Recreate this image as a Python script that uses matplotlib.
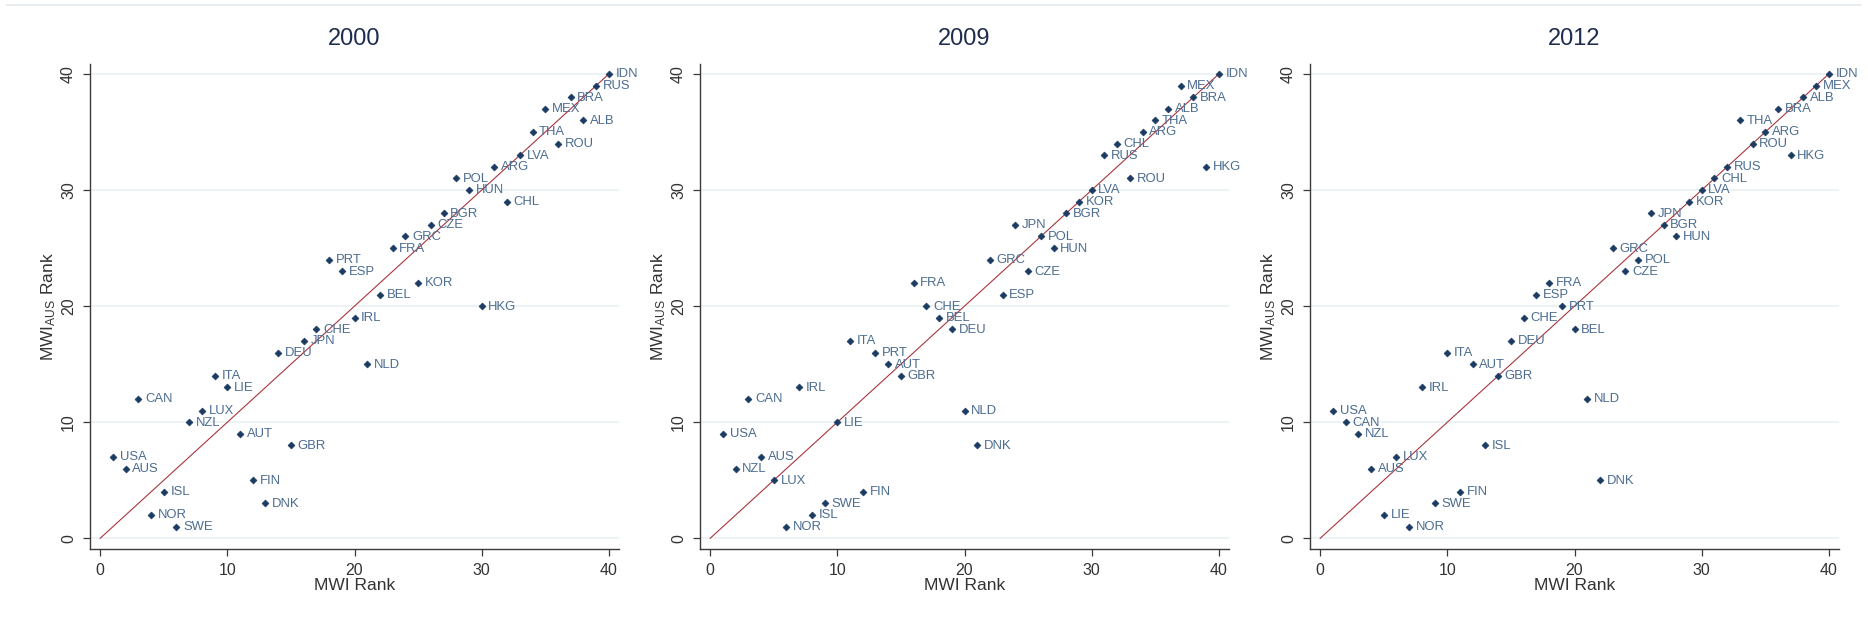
import matplotlib
matplotlib.use("Agg")
import matplotlib.pyplot as plt
from matplotlib.lines import Line2D

plt.rcParams['font.family'] = ['Liberation Sans', 'DejaVu Sans']
plt.rcParams['mathtext.default'] = 'regular'

# ranks per year: MWI rank (x) and MWI_AUS rank (y)
countries_2000 = ["IDN", "RUS", "BRA", "MEX", "ALB", "THA", "ROU", "LVA", "ARG", "POL",
                  "HUN", "CHL", "BGR", "CZE", "GRC", "FRA", "PRT", "ESP", "KOR", "BEL",
                  "HKG", "IRL", "CHE", "JPN", "DEU", "NLD", "ITA", "LIE", "CAN", "LUX",
                  "NZL", "AUT", "GBR", "USA", "AUS", "FIN", "ISL", "DNK", "NOR", "SWE"]
mwi_2000 = [40, 39, 37, 35, 38, 34, 36, 33, 31, 28,
            29, 32, 27, 26, 24, 23, 18, 19, 25, 22,
            30, 20, 17, 16, 14, 21, 9, 10, 3, 8,
            7, 11, 15, 1, 2, 12, 5, 13, 4, 6]
aus_2000 = [40, 39, 38, 37, 36, 35, 34, 33, 32, 31,
            30, 29, 28, 27, 26, 25, 24, 23, 22, 21,
            20, 19, 18, 17, 16, 15, 14, 13, 12, 11,
            10, 9, 8, 7, 6, 5, 4, 3, 2, 1]

countries_2009 = ["IDN", "MEX", "BRA", "ALB", "THA", "ARG", "CHL", "RUS", "HKG", "ROU",
                  "LVA", "KOR", "BGR", "JPN", "POL", "HUN", "GRC", "CZE", "FRA", "ESP",
                  "CHE", "BEL", "DEU", "ITA", "PRT", "AUT", "GBR", "IRL", "CAN", "NLD",
                  "LIE", "USA", "DNK", "AUS", "NZL", "LUX", "FIN", "SWE", "ISL", "NOR"]
mwi_2009 = [40, 37, 38, 36, 35, 34, 32, 31, 39, 33,
            30, 29, 28, 24, 26, 27, 22, 25, 16, 23,
            17, 18, 19, 11, 13, 14, 15, 7, 3, 20,
            10, 1, 21, 4, 2, 5, 12, 9, 8, 6]
aus_2009 = [40, 39, 38, 37, 36, 35, 34, 33, 32, 31,
            30, 29, 28, 27, 26, 25, 24, 23, 22, 21,
            20, 19, 18, 17, 16, 15, 14, 13, 12, 11,
            10, 9, 8, 7, 6, 5, 4, 3, 2, 1]

countries_2012 = ["IDN", "MEX", "ALB", "BRA", "THA", "ARG", "ROU", "HKG", "RUS", "CHL",
                  "LVA", "KOR", "JPN", "BGR", "HUN", "GRC", "POL", "CZE", "FRA", "ESP",
                  "PRT", "CHE", "BEL", "DEU", "ITA", "AUT", "GBR", "IRL", "NLD", "USA",
                  "CAN", "NZL", "ISL", "LUX", "AUS", "DNK", "FIN", "SWE", "LIE", "NOR"]
mwi_2012 = [40, 39, 38, 36, 33, 35, 34, 37, 32, 31,
            30, 29, 26, 27, 28, 23, 25, 24, 18, 17,
            19, 16, 20, 15, 10, 12, 14, 8, 21, 1,
            2, 3, 13, 6, 4, 22, 11, 9, 5, 7]
aus_2012 = [40, 39, 38, 37, 36, 35, 34, 33, 32, 31,
            30, 29, 28, 27, 26, 25, 24, 23, 22, 21,
            20, 19, 18, 17, 16, 15, 14, 13, 12, 11,
            10, 9, 8, 7, 6, 5, 4, 3, 2, 1]

years = ["2000", "2009", "2012"]
panels = [(countries_2000, mwi_2000, aus_2000),
          (countries_2009, mwi_2009, aus_2009),
          (countries_2012, mwi_2012, aus_2012)]
ticks = [0, 10, 20, 30, 40]

W, H = 1868, 625
fig = plt.figure(figsize=(W / 100, H / 100), dpi=100)

# faint rule along the top edge
fig.add_artist(Line2D([7 / W, 1861 / W], [1 - 5 / H, 1 - 5 / H],
                      color='#e4ebec', lw=1.2))

lefts = [90, 700, 1310]
for left, year, (names, xs, ys) in zip(lefts, years, panels):
    ax = fig.add_axes([left / W, 0.1222, 529 / W, 0.7754])
    ax.set_xlim(-0.8, 40.8)
    ax.set_ylim(-0.89, 40.86)
    for t in ticks:
        ax.axhline(t, color='#e8f0f1', lw=1.1, zorder=0)
    # 45-degree reference line
    ax.plot([0, 40], [0, 40], color='#a8363e', lw=0.8, zorder=1)
    ax.plot(xs, ys, 'D', ms=3.5, color='#1c3b63', mec='#1c3b63', mew=0.5,
            ls='none', zorder=3)
    for name, x, y in zip(names, xs, ys):
        ax.annotate(name, (x, y), xytext=(4.8, -0.3), textcoords='offset points',
                    va='center', ha='left', fontsize=9.4, color='#4b6c90',
                    annotation_clip=False, zorder=4)

    for s in ['top', 'right']:
        ax.spines[s].set_visible(False)
    for s in ['left', 'bottom']:
        ax.spines[s].set_color('#3a3a3a')
        ax.spines[s].set_linewidth(1.0)
    ax.set_xticks(ticks)
    ax.set_yticks(ticks)
    ax.tick_params(axis='both', direction='out', length=5, width=0.9,
                   color='#3a3a3a', labelsize=11.5, labelcolor='#333333', pad=5)
    for lab in ax.get_yticklabels():
        lab.set_rotation(90)
        lab.set_va('center')
    ax.set_xlabel('MWI Rank', fontsize=12.5, color='#333333', labelpad=0)
    ax.set_ylabel(r'MWI$_{AUS}$ Rank', fontsize=12.5, color='#333333', labelpad=2)
    ax.set_title(year, fontsize=17, color='#1e2d4f', pad=14)

fig.savefig('out.png', dpi=100, facecolor='white')
